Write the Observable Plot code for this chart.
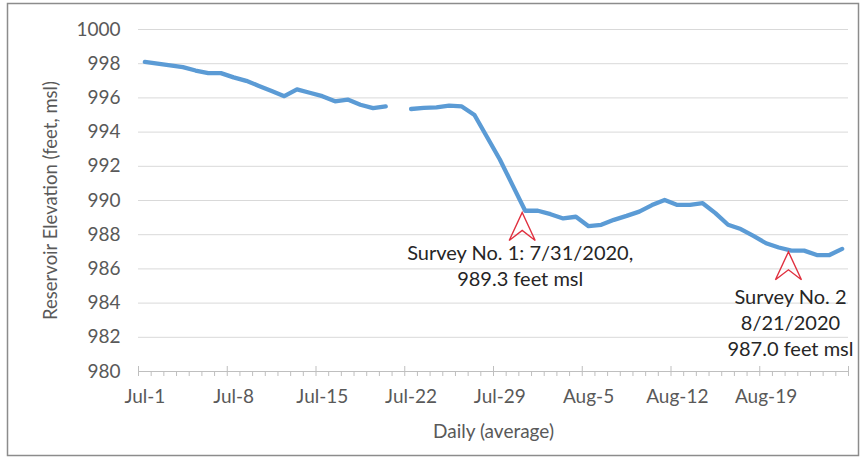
<!DOCTYPE html>
<html>
<head>
<meta charset="utf-8">
<script src="https://cdn.jsdelivr.net/npm/d3@7"></script>
<script src="https://cdn.jsdelivr.net/npm/@observablehq/plot@0.6"></script>
<style>
  html, body { margin: 0; padding: 0; background: #fff; }
</style>
</head>
<body>
<div id="chart"></div>
<script>
// ---- data ----
const startDate = "2020-07-01";
const endDate = "2020-08-26"; // exclusive
const elevation = [
  998.1, 998.0, 997.9, 997.8, 997.6, 997.45, 997.45, 997.2, 997.0, 996.7,
  996.4, 996.1, 996.5, 996.3, 996.1, 995.8, 995.9, 995.6, 995.4, 995.5,
  null, 995.35, 995.42, 995.45, 995.55, 995.5, 995.0, 993.7, 992.4, 990.9,
  989.4, 989.4, 989.2, 988.95, 989.05, 988.5, 988.58, 988.87, 989.1, 989.35,
  989.73, 990.03, 989.74, 989.75, 989.84, 989.26, 988.58, 988.33, 987.93, 987.5,
  987.25, 987.07, 987.07, 986.81, 986.81, 987.17
];
const tickLabels = ["Jul-1", "Jul-8", "Jul-15", "Jul-22", "Jul-29", "Aug-5", "Aug-12", "Aug-19"];
const yTicks = [980, 982, 984, 986, 988, 990, 992, 994, 996, 998, 1000];
const surveyDates = ["2020-07-31", "2020-08-21"];
const surveyElev = [989.3, 987.0];
const surveyLabels = ["Survey No. 1: 7/31/2020,\n989.3 feet msl", "Survey No. 2\n8/21/2020\n987.0 feet msl"];

// ---- derived tables ----
const days = d3.utcDay.range(new Date(startDate), new Date(endDate));
const mid = d => d3.utcHour.offset(d, 12);
const series = days.map((d, i) => ({date: mid(d), value: elevation[i]}));
const majorTicks = days.filter((d, i) => i % 7 === 0).concat([new Date(endDate)]);
const minorTicks = days.filter((d, i) => i % 7 !== 0);
const labelTicks = days.filter((d, i) => i % 7 === 0).map(mid);
const labelOf = new Map(labelTicks.map((d, i) => [+d, tickLabels[i]]));
const surveys = surveyDates.map((s, i) => ({date: mid(new Date(s)), value: surveyElev[i], label: surveyLabels[i]}));

const arrowSymbol = {
  draw(context) {
    context.moveTo(0, 0);
    context.lineTo(13, 28);
    context.lineTo(0, 18);
    context.lineTo(-13, 28);
    context.closePath();
  }
};

const chart = Plot.plot({
  width: 865,
  height: 462,
  marginLeft: 138,
  marginRight: 17,
  marginTop: 29,
  marginBottom: 91,
  style: {fontFamily: "Lato, sans-serif", fontSize: "19px", color: "#595959", background: "#fff"},
  x: {type: "utc", domain: [new Date(startDate), new Date(endDate)]},
  y: {domain: [980, 1000]},
  marks: [
    Plot.gridY(yTicks, {stroke: "#d9d9d9", strokeOpacity: 1}),
    Plot.ruleY([980], {stroke: "#bfbfbf", strokeWidth: 1.2}),
    Plot.axisY(yTicks, {tickSize: 0, tickPadding: 18, tickFormat: d => String(d), label: null}),
    Plot.axisY(yTicks, {
      tickSize: 0, tickFormat: () => "", dy: 8,
      label: "Reservoir Elevation (feet, msl)", labelAnchor: "center", labelArrow: "none", labelOffset: 95, fontSize: 18.5
    }),
    Plot.axisX(majorTicks, {tickSize: 10, dy: -5, tickFormat: () => "", stroke: "#bfbfbf", label: null}),
    Plot.axisX(minorTicks, {tickSize: 5, tickFormat: () => "", stroke: "#bfbfbf", label: null}),
    Plot.axisX(labelTicks, {
      tickSize: 0, tickPadding: 18, tickFormat: d => labelOf.get(+d),
      label: "Daily (average)", labelAnchor: "center", labelArrow: "none", labelOffset: 66
    }),
    Plot.line(series, {x: "date", y: "value", stroke: "#5b9bd5", strokeWidth: 4.3, strokeLinejoin: "round", strokeLinecap: "round"}),
    Plot.dot(surveys, {x: "date", y: "value", symbol: arrowSymbol, stroke: "#e0303f", strokeWidth: 1.4, fill: "none", dx: -3}),
    Plot.text(surveys.slice(0, 1), {x: "date", y: "value", text: "label", lineAnchor: "top", dy: 29, dx: -5, lineHeight: 1.3, fill: "#262626", fontSize: 20}),
    Plot.text(surveys.slice(1), {x: "date", y: "value", text: "label", lineAnchor: "top", dy: 34, dx: -1, lineHeight: 1.3, fill: "#262626", fontSize: 20})
  ]
});

d3.select(chart).insert("rect", ":first-child")
  .attr("x", 7.5).attr("y", 3.5).attr("width", 851).attr("height", 452)
  .attr("fill", "none").attr("stroke", "#8c8c8c").attr("stroke-width", 1.5);

document.getElementById("chart").appendChild(chart);
</script>
</body>
</html>
